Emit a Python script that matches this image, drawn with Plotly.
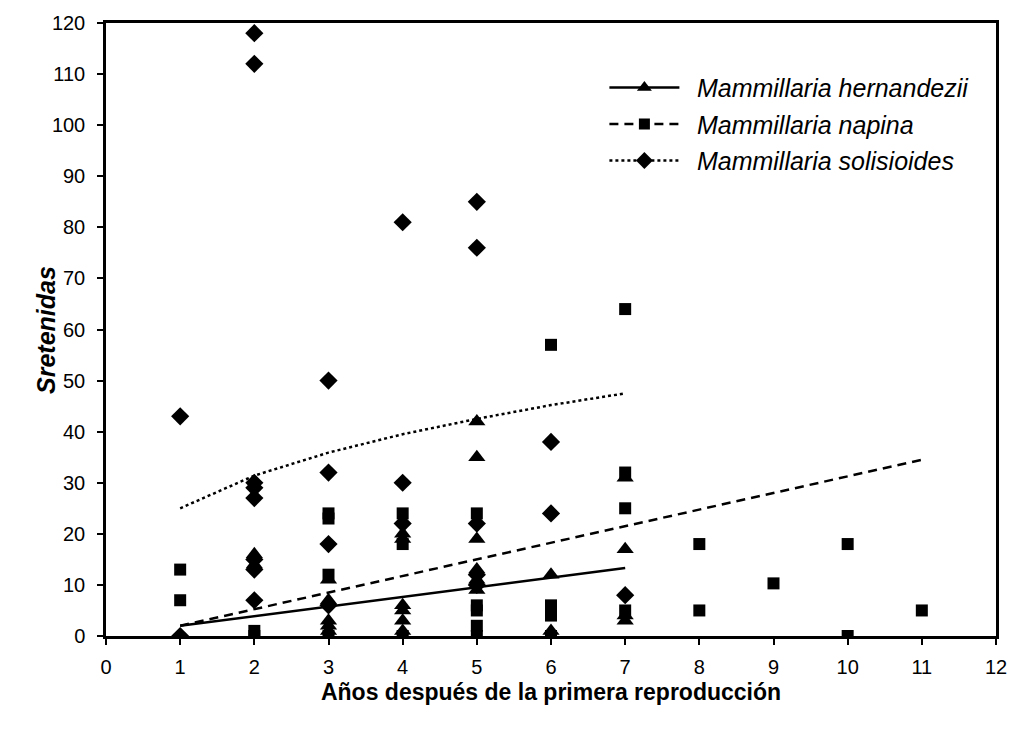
import plotly.graph_objects as go

# Data
hern_x = [1, 2, 2, 2, 3, 3, 3, 3, 3, 3, 4, 4, 4, 4, 4, 4, 4, 5, 5, 5, 5, 5, 5, 6, 6, 6, 7, 7, 7, 7]
hern_y = [0, 16, 14, 0, 11, 7, 3, 2, 1, 0, 20, 19, 6, 5, 3, 1, 0, 42, 35, 19, 13, 11, 9, 12, 1, 0, 31, 17, 4, 3]

nap_x = [1, 1, 2, 2, 3, 3, 3, 3, 4, 4, 4, 5, 5, 5, 5, 5, 6, 6, 6, 6, 7, 7, 7, 7, 8, 8, 9, 10, 10, 11]
nap_y = [13, 7, 1, 0, 24, 23, 12, 0, 24, 18, 0, 24, 6, 5, 2, 0, 57, 6, 4, 0, 64, 32, 25, 5, 18, 5, 10.3, 18, 0, 5]

sol_x = [1, 1, 2, 2, 2, 2, 2, 2, 2, 2, 3, 3, 3, 3, 4, 4, 4, 5, 5, 5, 5, 5, 6, 6, 7]
sol_y = [43, 0, 118, 112, 30, 29, 27, 15, 13, 7, 50, 32, 18, 6, 81, 30, 22, 85, 76, 22, 12, 10, 38, 24, 8]

# Trend lines
hern_trend_x = [1, 7]
hern_trend_y = [2, 13.3]
nap_trend_x = [1, 11]
nap_trend_y = [2, 34.5]
sol_trend_x = [1, 2, 3, 4, 5, 6, 7]
sol_trend_y = [25, 31.4, 35.9, 39.5, 42.5, 45.2, 47.5]

names = ["Mammillaria hernandezii", "Mammillaria napina", "Mammillaria solisioides"]

fig = go.Figure()

# trend lines
fig.add_trace(go.Scatter(x=hern_trend_x, y=hern_trend_y, mode="lines",
                         line=dict(color="black", width=2.5, dash="solid"),
                         showlegend=False, hoverinfo="skip"))
fig.add_trace(go.Scatter(x=nap_trend_x, y=nap_trend_y, mode="lines",
                         line=dict(color="black", width=2.5, dash="9px,6px"),
                         showlegend=False, hoverinfo="skip"))
fig.add_trace(go.Scatter(x=sol_trend_x, y=sol_trend_y, mode="lines",
                         line=dict(color="black", width=2.5, dash="3px,3px"),
                         showlegend=False, hoverinfo="skip"))

# points
fig.add_trace(go.Scatter(x=nap_x, y=nap_y, mode="markers",
                         marker=dict(symbol="square", size=12, color="black"),
                         showlegend=False))
fig.add_trace(go.Scatter(x=sol_x, y=sol_y, mode="markers",
                         marker=dict(symbol="diamond", size=14, color="black"),
                         showlegend=False))
fig.add_trace(go.Scatter(x=hern_x, y=hern_y, mode="markers",
                         marker=dict(symbol="triangle-up", size=15, color="black"),
                         showlegend=False))

# legend entries
for i, (nm, sym, dash, sz) in enumerate(zip(names, ["triangle-up", "square", "diamond"],
                                            ["solid", "9px,6px", "3px,3px"], [13, 11, 13])):
    fig.add_trace(go.Scatter(x=[None], y=[None], mode="lines+markers",
                             name="\u2002" + nm,
                             legendgroup="g%d" % i,
                             line=dict(color="black", width=2.5, dash=dash),
                             marker=dict(symbol=sym, size=sz, color="black")))

fig.update_layout(
    width=1019, height=731,
    margin=dict(l=106, r=14, t=21, b=95),
    plot_bgcolor="white", paper_bgcolor="white",
    font=dict(family="Liberation Sans, Arial, sans-serif", color="black", size=20),
    legend=dict(x=0.56, y=0.932, xanchor="left", yanchor="top",
                font=dict(size=25, style="italic"), itemwidth=70,
                bgcolor="rgba(0,0,0,0)", tracegroupgap=1),
    annotations=[dict(text="<b><i>Sretenidas</i></b>", textangle=-90,
                      xref="paper", yref="paper", x=-0.068, y=0.5,
                      xanchor="center", yanchor="middle", showarrow=False,
                      font=dict(size=25))],
)
fig.update_xaxes(range=[0, 12], tickmode="linear", tick0=0, dtick=1,
                 showline=True, linecolor="black", linewidth=2.5, mirror=True,
                 ticks="outside", ticklen=6, tickwidth=1.5, tickcolor="black",
                 showgrid=False, zeroline=False, ticklabelstandoff=5,
                 title=dict(text="<b>Años después de la primera reproducción</b>",
                            font=dict(size=23), standoff=8))
fig.update_yaxes(range=[0, 120], tickmode="linear", tick0=0, dtick=10,
                 showline=True, linecolor="black", linewidth=2.5, mirror=True,
                 ticks="outside", ticklen=6, tickwidth=1.5, tickcolor="black",
                 showgrid=False, zeroline=False, ticklabelstandoff=8)

fig.write_html("out.html")
